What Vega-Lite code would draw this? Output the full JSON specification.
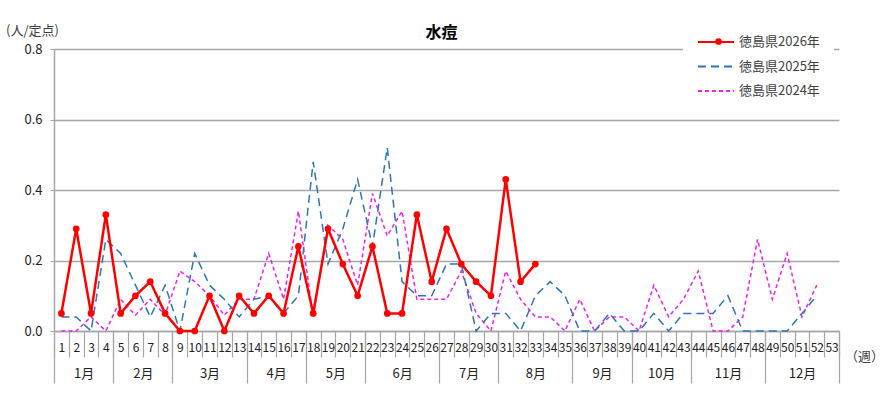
{
  "$schema": "https://vega.github.io/schema/vega-lite/v6.json",
  "width": 785,
  "height": 282,
  "autosize": "none",
  "padding": {"left": 54, "top": 49, "right": 45, "bottom": 70},
  "background": "white",
  "title": {"text": "水痘", "fontSize": 16, "fontWeight": "bold", "color": "black", "anchor": "middle", "frame": "group", "offset": 8, "dx": -5, "dy": 31},
  "data": {
    "values": [
      {"week": 1, "徳島県2026年": 0.05, "徳島県2025年": 0.04, "徳島県2024年": 0},
      {"week": 2, "徳島県2026年": 0.29, "徳島県2025年": 0.04, "徳島県2024年": 0},
      {"week": 3, "徳島県2026年": 0.05, "徳島県2025年": 0, "徳島県2024年": 0.04},
      {"week": 4, "徳島県2026年": 0.33, "徳島県2025年": 0.26, "徳島県2024年": 0},
      {"week": 5, "徳島県2026年": 0.05, "徳島県2025年": 0.22, "徳島県2024年": 0.09},
      {"week": 6, "徳島県2026年": 0.1, "徳島県2025年": 0.13, "徳島県2024年": 0.045},
      {"week": 7, "徳島県2026年": 0.14, "徳島県2025年": 0.04, "徳島県2024年": 0.09},
      {"week": 8, "徳島県2026年": 0.05, "徳島県2025年": 0.13, "徳島県2024年": 0.045},
      {"week": 9, "徳島県2026年": 0, "徳島県2025年": 0, "徳島県2024年": 0.17},
      {"week": 10, "徳島県2026年": 0, "徳島県2025年": 0.22, "徳島県2024年": 0.14},
      {"week": 11, "徳島県2026年": 0.1, "徳島県2025年": 0.13, "徳島県2024年": 0.1},
      {"week": 12, "徳島県2026年": 0, "徳島県2025年": 0.09, "徳島県2024年": 0.045},
      {"week": 13, "徳島県2026年": 0.1, "徳島県2025年": 0.04, "徳島県2024年": 0.09},
      {"week": 14, "徳島県2026年": 0.05, "徳島県2025年": 0.09, "徳島県2024年": 0.09},
      {"week": 15, "徳島県2026年": 0.1, "徳島県2025年": 0.1, "徳島県2024年": 0.22},
      {"week": 16, "徳島県2026年": 0.05, "徳島県2025年": 0.05, "徳島県2024年": 0.09},
      {"week": 17, "徳島県2026年": 0.24, "徳島県2025年": 0.1, "徳島県2024年": 0.34},
      {"week": 18, "徳島県2026年": 0.05, "徳島県2025年": 0.48, "徳島県2024年": 0.04},
      {"week": 19, "徳島県2026年": 0.29, "徳島県2025年": 0.19, "徳島県2024年": 0.3},
      {"week": 20, "徳島県2026年": 0.19, "徳島県2025年": 0.29, "徳島県2024年": 0.26},
      {"week": 21, "徳島県2026年": 0.1, "徳島県2025年": 0.43, "徳島県2024年": 0.13},
      {"week": 22, "徳島県2026年": 0.24, "徳島県2025年": 0.24, "徳島県2024年": 0.39},
      {"week": 23, "徳島県2026年": 0.05, "徳島県2025年": 0.52, "徳島県2024年": 0.27},
      {"week": 24, "徳島県2026年": 0.05, "徳島県2025年": 0.14, "徳島県2024年": 0.34},
      {"week": 25, "徳島県2026年": 0.33, "徳島県2025年": 0.1, "徳島県2024年": 0.09},
      {"week": 26, "徳島県2026年": 0.14, "徳島県2025年": 0.1, "徳島県2024年": 0.09},
      {"week": 27, "徳島県2026年": 0.29, "徳島県2025年": 0.19, "徳島県2024年": 0.09},
      {"week": 28, "徳島県2026年": 0.19, "徳島県2025年": 0.19, "徳島県2024年": 0.17},
      {"week": 29, "徳島県2026年": 0.14, "徳島県2025年": 0, "徳島県2024年": 0.05},
      {"week": 30, "徳島県2026年": 0.1, "徳島県2025年": 0.05, "徳島県2024年": 0},
      {"week": 31, "徳島県2026年": 0.43, "徳島県2025年": 0.05, "徳島県2024年": 0.17},
      {"week": 32, "徳島県2026年": 0.14, "徳島県2025年": 0, "徳島県2024年": 0.09},
      {"week": 33, "徳島県2026年": 0.19, "徳島県2025年": 0.1, "徳島県2024年": 0.04},
      {"week": 34, "徳島県2025年": 0.14, "徳島県2024年": 0.04},
      {"week": 35, "徳島県2025年": 0.1, "徳島県2024年": 0},
      {"week": 36, "徳島県2025年": 0, "徳島県2024年": 0.09},
      {"week": 37, "徳島県2025年": 0, "徳島県2024年": 0},
      {"week": 38, "徳島県2025年": 0.05, "徳島県2024年": 0.04},
      {"week": 39, "徳島県2025年": 0, "徳島県2024年": 0.04},
      {"week": 40, "徳島県2025年": 0, "徳島県2024年": 0},
      {"week": 41, "徳島県2025年": 0.05, "徳島県2024年": 0.13},
      {"week": 42, "徳島県2025年": 0, "徳島県2024年": 0.04},
      {"week": 43, "徳島県2025年": 0.05, "徳島県2024年": 0.09},
      {"week": 44, "徳島県2025年": 0.05, "徳島県2024年": 0.17},
      {"week": 45, "徳島県2025年": 0.05, "徳島県2024年": 0},
      {"week": 46, "徳島県2025年": 0.1, "徳島県2024年": 0},
      {"week": 47, "徳島県2025年": 0, "徳島県2024年": 0.04},
      {"week": 48, "徳島県2025年": 0, "徳島県2024年": 0.26},
      {"week": 49, "徳島県2025年": 0, "徳島県2024年": 0.09},
      {"week": 50, "徳島県2025年": 0, "徳島県2024年": 0.22},
      {"week": 51, "徳島県2025年": 0.05, "徳島県2024年": 0.04},
      {"week": 52, "徳島県2025年": 0.1, "徳島県2024年": 0.13}
    ]
  },
  "transform": [
    {"fold": ["徳島県2026年", "徳島県2025年", "徳島県2024年"], "as": ["series", "value"]},
    {"filter": "isValid(datum.value)"}
  ],
  "layer": [
    {
      "transform": [{"filter": "datum.series === '徳島県2024年'"}],
      "mark": {"type": "line", "strokeWidth": 1.5},
      "encoding": {
        "x": {
          "field": "week", "type": "quantitative",
          "scale": {"domain": [0.5, 53.5], "nice": false, "zero": false},
          "axis": {
            "orient": "bottom", "title": null, "labels": false, "grid": false,
            "values": [0.5, 1.5, 2.5, 3.5, 4.5, 5.5, 6.5, 7.5, 8.5, 9.5, 10.5, 11.5, 12.5, 13.5, 14.5, 15.5, 16.5, 17.5, 18.5, 19.5, 20.5, 21.5, 22.5, 23.5, 24.5, 25.5, 26.5, 27.5, 28.5, 29.5, 30.5, 31.5, 32.5, 33.5, 34.5, 35.5, 36.5, 37.5, 38.5, 39.5, 40.5, 41.5, 42.5, 43.5, 44.5, 45.5, 46.5, 47.5, 48.5, 49.5, 50.5, 51.5, 52.5, 53.5],
            "tickSize": 26, "tickColor": "#A6A6A6", "tickWidth": 1.2,
            "domainColor": "#A6A6A6", "domainWidth": 1.5
          }
        },
        "y": {
          "field": "value", "type": "quantitative",
          "scale": {"domain": [0, 0.8], "nice": false},
          "axis": {
            "values": [0, 0.2, 0.4, 0.6, 0.8], "format": ".1f",
            "title": "(人/定点)", "titleAngle": 0, "titleX": -22, "titleY": -19,
            "titleAlign": "center", "titleBaseline": "middle",
            "titleFontSize": 13, "titleFontWeight": "normal", "titleColor": "#404040",
            "labelFontSize": 13, "labelColor": "#222222", "labelPadding": 8,
            "tickSize": 4, "tickColor": "#A6A6A6",
            "grid": true, "gridColor": "#A6A6A6", "gridWidth": 1.5,
            "domainColor": "#A6A6A6", "domainWidth": 1.5
          }
        },
        "color": {
          "field": "series", "type": "nominal",
          "scale": {"domain": ["徳島県2026年", "徳島県2025年", "徳島県2024年"], "range": ["#FF0000", "#2E75B6", "#EE22EE"]},
          "legend": {
            "title": null, "orient": "none", "legendX": 629, "legendY": -31,
            "symbolType": "M-1,0H3", "symbolSize": 324, "symbolStrokeWidth": 2,
            "labelFontSize": 13, "labelColor": "#404040", "labelOffset": 22,
            "rowPadding": 7.5, "padding": 14, "fillColor": "white", "zindex": 0
          }
        },
        "strokeDash": {
          "field": "series", "type": "nominal",
          "scale": {"domain": ["徳島県2026年", "徳島県2025年", "徳島県2024年"], "range": [[1, 0], [8, 5], [4, 3]]}
        }
      }
    },
    {
      "transform": [{"filter": "datum.series === '徳島県2025年'"}],
      "mark": {"type": "line", "strokeWidth": 1.5},
      "encoding": {
        "x": {
          "field": "week", "type": "quantitative",
          "axis": {
            "orient": "bottom", "grid": false, "domain": false, "ticks": false, "tickSize": 0,
            "values": [1, 2, 3, 4, 5, 6, 7, 8, 9, 10, 11, 12, 13, 14, 15, 16, 17, 18, 19, 20, 21, 22, 23, 24, 25, 26, 27, 28, 29, 30, 31, 32, 33, 34, 35, 36, 37, 38, 39, 40, 41, 42, 43, 44, 45, 46, 47, 48, 49, 50, 51, 52, 53],
            "labelFontSize": 12, "labelColor": "#222222", "labelPadding": 11,
            "labelOverlap": false, "labelFlush": false, "labelBound": false,
            "title": "（週）", "titleX": 810, "titleY": 25, "titleAlign": "center", "titleBaseline": "middle",
            "titleFontSize": 13, "titleFontWeight": "normal", "titleColor": "#404040"
          }
        },
        "y": {"field": "value", "type": "quantitative"},
        "color": {"field": "series", "type": "nominal"},
        "strokeDash": {"field": "series", "type": "nominal"}
      }
    },
    {
      "transform": [{"filter": "datum.series === '徳島県2026年'"}],
      "mark": {"type": "line", "strokeWidth": 2.5},
      "encoding": {
        "x": {
          "field": "week", "type": "quantitative",
          "axis": {
            "orient": "bottom", "title": null, "labels": false, "grid": false, "domain": false,
            "values": [0.5, 4.5, 8.5, 13.5, 17.5, 21.5, 26.5, 30.5, 35.5, 39.5, 43.5, 48.5, 53.5],
            "tickSize": 52, "tickColor": "#A6A6A6", "tickWidth": 1.2
          }
        },
        "y": {"field": "value", "type": "quantitative"},
        "color": {"field": "series", "type": "nominal"},
        "strokeDash": {"field": "series", "type": "nominal"}
      }
    },
    {
      "transform": [{"filter": "datum.series === '徳島県2026年'"}],
      "mark": {"type": "circle", "size": 45, "opacity": 1},
      "encoding": {
        "x": {
          "field": "week", "type": "quantitative",
          "axis": {
            "orient": "bottom", "title": null, "grid": false, "domain": false, "ticks": false, "tickSize": 0,
            "values": [2.5, 6.5, 11, 15.5, 19.5, 24, 28.5, 33, 37.5, 41.5, 46, 51],
            "labelExpr": "(indexof([2.5, 6.5, 11, 15.5, 19.5, 24, 28.5, 33, 37.5, 41.5, 46, 51], datum.value) + 1) + '月'",
            "labelFontSize": 13, "labelColor": "#222222", "labelPadding": 36,
            "labelOverlap": false, "labelFlush": false, "labelBound": false
          }
        },
        "y": {"field": "value", "type": "quantitative"},
        "fill": {
          "field": "series", "type": "nominal",
          "scale": {"domain": ["徳島県2026年"], "range": ["#FF0000"]},
          "legend": {
            "title": null, "orient": "none", "legendX": 658, "legendY": -14,
            "symbolType": "circle", "symbolSize": 45, "symbolStrokeWidth": 0,
            "labelExpr": "''", "labelFontSize": 13, "padding": 0, "zindex": 1
          }
        }
      }
    }
  ],
  "resolve": {"axis": {"x": "independent"}},
  "config": {
    "font": "Noto Sans CJK JP",
    "view": {"stroke": null}
  }
}
